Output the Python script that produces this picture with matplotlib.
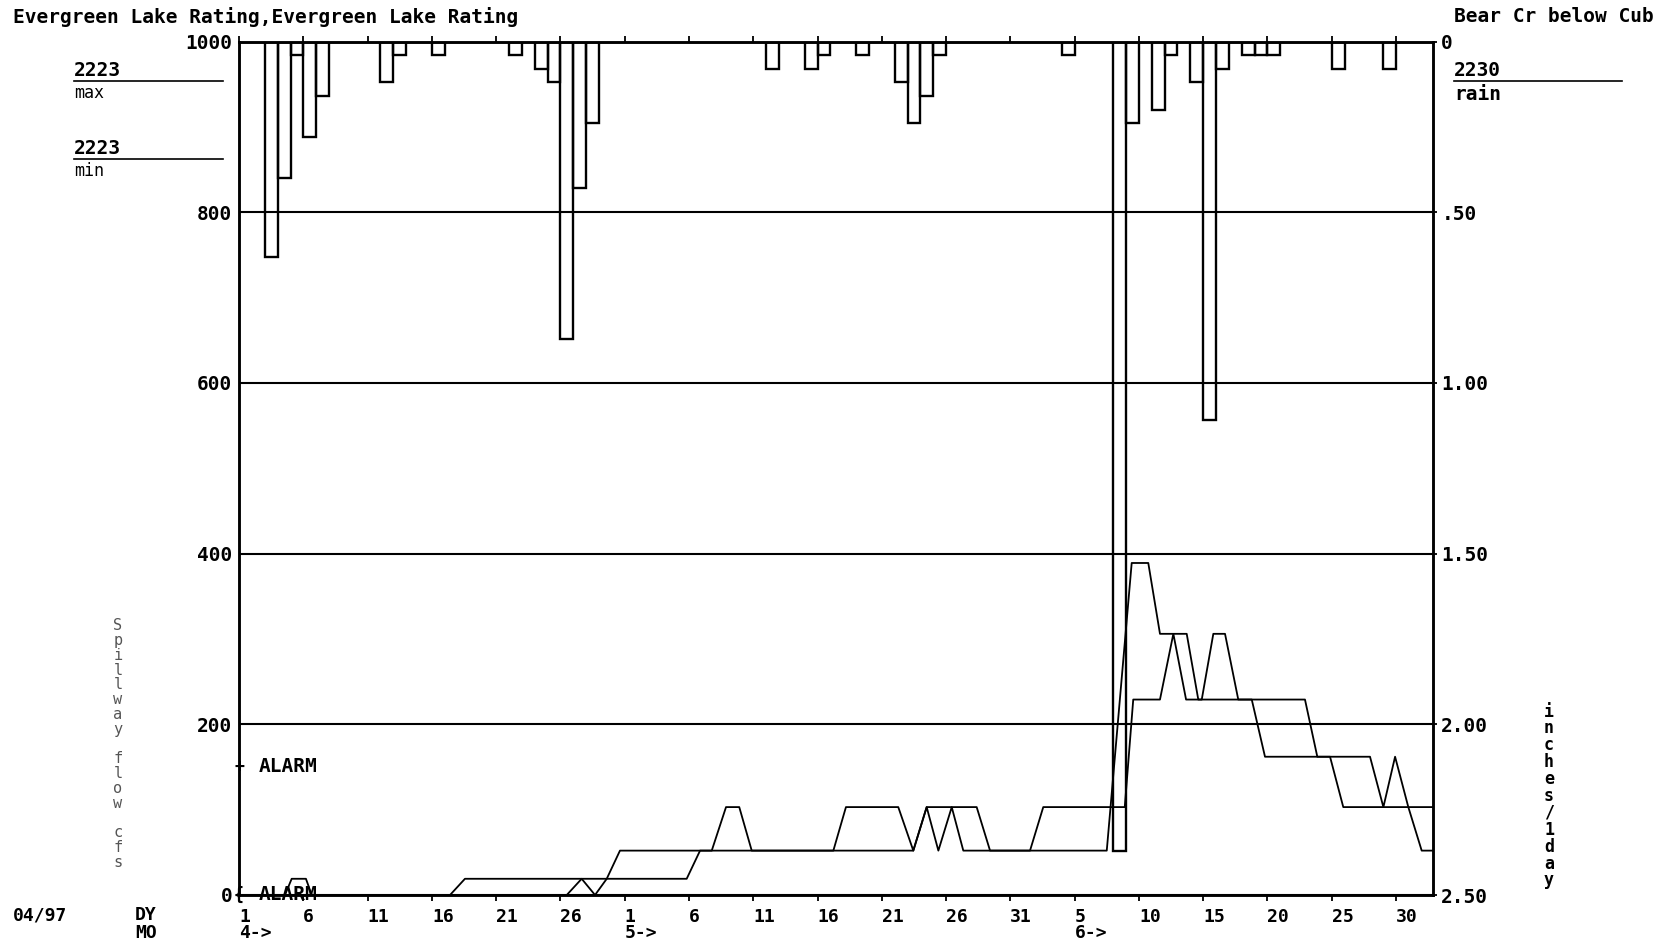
import matplotlib
matplotlib.use("Agg")
import matplotlib.pyplot as plt
from matplotlib.lines import Line2D
from matplotlib.transforms import blended_transform_factory

# ---- data (day 0 = 1 April 1997) ------------------------------------------
rain_day = [2, 3, 4, 5, 6, 11, 12, 15, 21, 23, 24, 25, 26, 27,
            41, 44, 45, 48, 51, 52, 53, 54,
            64, 68, 69, 71, 72, 74, 75, 76, 78, 79, 80, 85, 89]
rain_in = [0.63, 0.40, 0.04, 0.28, 0.16, 0.12, 0.04, 0.04, 0.04, 0.08, 0.12, 0.87, 0.43, 0.24,
           0.08, 0.08, 0.04, 0.04, 0.12, 0.24, 0.16, 0.04,
           0.04, 2.37, 0.24, 0.20, 0.04, 0.12, 1.11, 0.08, 0.04, 0.04, 0.04, 0.08, 0.08]

flow1_day = [0, 3.57, 4.09, 5.2, 5.65, 25.49, 26.65, 27.69, 28.6, 34.82,
             35.86, 46.23, 47.21, 51.28, 52.45, 53.49, 54.4, 55.44, 56.34, 61.53,
             62.56, 67.1, 68.9, 69.56, 71.64, 72.68, 73.67, 74.89, 75.79, 76.7,
             77.73, 82.92, 83.88, 87.98, 89.02, 89.93, 90.96, 92.9]
flow1_cfs = [0, 0, 19, 19, 0, 0, 19, 0, 19, 19,
             52, 52, 103, 103, 52, 103, 52, 103, 52, 52,
             103, 103, 103, 229, 229, 306, 229, 229, 306, 306,
             229, 229, 162, 162, 103, 162, 103, 103]

flow2_day = [0, 16.41, 17.57, 28.6, 29.63, 36.77, 37.88, 38.91, 39.88, 52.45,
             53.49, 57.38, 58.42, 67.5, 69.44, 70.73, 71.64, 73.72, 74.62, 78.78,
             79.81, 84.87, 85.9, 90.96, 92.0, 92.9]
flow2_cfs = [0, 0, 19, 19, 52, 52, 103, 103, 52, 52,
             103, 103, 52, 52, 389, 389, 306, 306, 229, 229,
             162, 162, 103, 103, 52, 52]

alarm_cfs = [150, 0]

x_ticks = [0, 5, 10, 15, 20, 25, 30, 35, 40, 45, 50, 55, 60, 65, 70, 75, 80, 85, 90]
x_tick_labels = ["1", "6", "11", "16", "21", "26", "1", "6", "11", "16", "21", "26", "31",
                 "5", "10", "15", "20", "25", "30"]
month_day = [0, 30, 65]
month_label = ["4->", "5->", "6->"]

flow_ticks = [0, 200, 400, 600, 800, 1000]
flow_tick_labels = ["0", "200", "400", "600", "800", "1000"]
rain_ticks = [0, 0.5, 1.0, 1.5, 2.0, 2.5]
rain_tick_labels = ["0", ".50", "1.00", "1.50", "2.00", "2.50"]

# ---- figure ---------------------------------------------------------------
plt.rcParams["font.family"] = ["DejaVu Sans Mono", "DejaVu Sans"]
plt.rcParams["font.weight"] = "bold"

W, H = 1668, 942
FS = 14       # main label size
FS_X = 13     # two-row date axis

fig = plt.figure(figsize=(W / 100, H / 100), dpi=100)
fig.patch.set_facecolor("white")


def fpos(x, y):
    return x / W, 1 - y / H


ax_l, ax_r, ax_t, ax_b = 239.1, 1433, 41.5, 895
ax = fig.add_axes([ax_l / W, 1 - ax_b / H, (ax_r - ax_l) / W, (ax_b - ax_t) / H])
ax.set_xlim(0, 92.88)
ax.set_ylim(0, 1000)

for s in ax.spines.values():
    s.set_linewidth(1.8)
    s.set_color("black")

ax.set_yticks(flow_ticks)
ax.set_yticklabels(flow_tick_labels, fontsize=FS, fontweight="bold")
ax.tick_params(axis="y", length=0, pad=5)
ax.yaxis.grid(True, color="black", linewidth=1.5)
ax.set_axisbelow(True)

ax.set_xticks(x_ticks)
ax.set_xticklabels(x_tick_labels, fontsize=FS_X, fontweight="bold")
for lbl in ax.get_xticklabels():
    lbl.set_horizontalalignment("left")
ax.tick_params(axis="x", direction="out", length=4, width=1.3, pad=5, top=True)

# spillway flow traces
ax.plot(flow1_day, flow1_cfs, color="black", linewidth=1.3, zorder=3)
ax.plot(flow2_day, flow2_cfs, color="black", linewidth=1.3, zorder=3)

# alarm levels
for lvl, mark in zip(alarm_cfs, ["+", "{"]):
    ax.text(0, lvl, mark, ha="center", va="center", fontsize=12, fontweight="bold",
            zorder=5)
    ax.text(1.5, lvl, "ALARM", ha="left", va="center", fontsize=FS, fontweight="bold",
            zorder=5)

# daily rain, hanging from the top
ax2 = ax.twinx()
ax2.set_ylim(2.5, 0)
ax2.set_yticks(rain_ticks)
ax2.set_yticklabels(rain_tick_labels, fontsize=FS, fontweight="bold")
ax2.tick_params(axis="y", length=3, width=1.3, pad=3)
for s in ax2.spines.values():
    s.set_linewidth(1.8)
ax2.bar(rain_day, rain_in, width=1.0, align="edge", bottom=0, fill=False,
        edgecolor="black", linewidth=1.7, zorder=4)

# month markers under the day numbers
trans = blended_transform_factory(ax.transData, fig.transFigure)
for d, m in zip(month_day, month_label):
    ax.text(d, 1 - 933 / H, m, transform=trans, ha="left", va="center",
            fontsize=FS_X, fontweight="bold")

# header texts
fig.text(*fpos(13, 17), "Evergreen Lake Rating,Evergreen Lake Rating",
         ha="left", va="center", fontsize=FS, fontweight="bold")
fig.text(*fpos(1654, 17), "Bear Cr below Cub", ha="right", va="center",
         fontsize=FS, fontweight="bold")

# gauge annotations
fig.text(*fpos(74, 70), "2223", ha="left", va="center", fontsize=FS, fontweight="bold")
fig.add_artist(Line2D([74 / W, 223 / W], [1 - 81 / H] * 2, color="black", linewidth=1.2))
fig.text(*fpos(74, 93), "max", ha="left", va="center", fontsize=12, fontweight="normal")
fig.text(*fpos(74, 148), "2223", ha="left", va="center", fontsize=FS, fontweight="bold")
fig.add_artist(Line2D([74 / W, 223 / W], [1 - 159 / H] * 2, color="black", linewidth=1.2))
fig.text(*fpos(74, 171), "min", ha="left", va="center", fontsize=12, fontweight="normal")

fig.text(*fpos(1454, 71), "2230", ha="left", va="center", fontsize=FS, fontweight="bold")
fig.add_artist(Line2D([1454 / W, 1622 / W], [1 - 81 / H] * 2, color="black", linewidth=1.2))
fig.text(*fpos(1454, 94), "rain", ha="left", va="center", fontsize=FS, fontweight="bold")

# axis captions, letters stacked vertically
fig.text(*fpos(118, 744), "\n".join("Spillway flow cfs"), ha="center", va="center",
         fontsize=11, fontweight="normal", color="#555555", linespacing=0.98)
fig.text(*fpos(1549, 796), "\n".join("inches/1day"), ha="center", va="center",
         fontsize=12, fontweight="bold", linespacing=0.92)

# date block at the lower left
fig.text(*fpos(13, 915), "04/97", ha="left", va="center", fontsize=FS_X, fontweight="bold")
fig.text(*fpos(135, 915), "DY", ha="left", va="center", fontsize=FS_X, fontweight="bold")
fig.text(*fpos(135, 933), "MO", ha="left", va="center", fontsize=FS_X, fontweight="bold")

fig.savefig("out.png", dpi=100, facecolor="white")
